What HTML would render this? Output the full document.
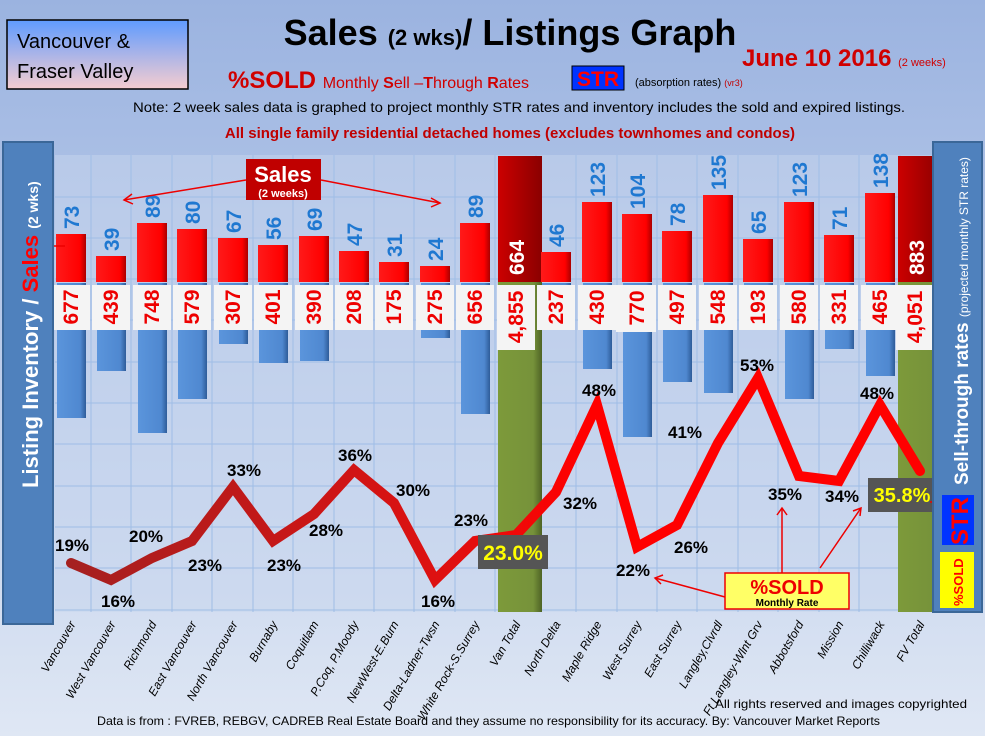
<!DOCTYPE html>
<html><head><meta charset="utf-8"><style>
html,body{margin:0;padding:0}
body{width:985px;height:736px;overflow:hidden;font-family:"Liberation Sans",sans-serif}
</style></head><body>
<svg width="985" height="736" viewBox="0 0 985 736" xmlns="http://www.w3.org/2000/svg" font-family="Liberation Sans, sans-serif">
<defs>
<linearGradient id="bg" x1="0" y1="0" x2="0" y2="1"><stop offset="0" stop-color="#9bb3e0"/><stop offset="0.5" stop-color="#bccdeb"/><stop offset="1" stop-color="#dfe7f4"/></linearGradient>
<linearGradient id="tb" x1="0" y1="0" x2="0" y2="1"><stop offset="0" stop-color="#5f9bff"/><stop offset="1" stop-color="#f6cdd0"/></linearGradient>
<linearGradient id="rb" x1="0" y1="0" x2="1" y2="0"><stop offset="0" stop-color="#ff1a1a"/><stop offset="0.8" stop-color="#f00"/><stop offset="1" stop-color="#a00"/></linearGradient>
<linearGradient id="bb" x1="0" y1="0" x2="1" y2="0"><stop offset="0" stop-color="#5b95dc"/><stop offset="0.8" stop-color="#4f88d0"/><stop offset="1" stop-color="#2e5c99"/></linearGradient>
<linearGradient id="gb" x1="0" y1="0" x2="1" y2="0"><stop offset="0" stop-color="#7d9a3a"/><stop offset="0.8" stop-color="#76923a"/><stop offset="1" stop-color="#4e6325"/></linearGradient>
<linearGradient id="db" x1="0" y1="0" x2="1" y2="0"><stop offset="0" stop-color="#cc0000"/><stop offset="1" stop-color="#8a0000"/></linearGradient>
<linearGradient id="ln" x1="0" y1="0" x2="1" y2="0"><stop offset="0" stop-color="#a52020"/><stop offset="0.45" stop-color="#e01010"/><stop offset="0.6" stop-color="#ff0000"/></linearGradient>
</defs>
<rect width="985" height="736" fill="url(#bg)"/>
<rect x="55" y="155" width="877" height="457" fill="#c7d5ee" opacity="0.5"/>
<g stroke="#9fbde6" stroke-width="1">
<line x1="55" y1="197" x2="932" y2="197"/><line x1="55" y1="238" x2="932" y2="238"/><line x1="55" y1="279" x2="932" y2="279"/><line x1="55" y1="320" x2="932" y2="320"/><line x1="55" y1="362" x2="932" y2="362"/><line x1="55" y1="403" x2="932" y2="403"/><line x1="55" y1="444" x2="932" y2="444"/><line x1="55" y1="486" x2="932" y2="486"/><line x1="55" y1="527" x2="932" y2="527"/><line x1="55" y1="568" x2="932" y2="568"/><line x1="55" y1="610" x2="932" y2="610"/>
<line x1="91" y1="155" x2="91" y2="612"/><line x1="131" y1="155" x2="131" y2="612"/><line x1="172" y1="155" x2="172" y2="612"/><line x1="212" y1="155" x2="212" y2="612"/><line x1="253" y1="155" x2="253" y2="612"/><line x1="293" y1="155" x2="293" y2="612"/><line x1="334" y1="155" x2="334" y2="612"/><line x1="374" y1="155" x2="374" y2="612"/><line x1="414" y1="155" x2="414" y2="612"/><line x1="455" y1="155" x2="455" y2="612"/><line x1="495" y1="155" x2="495" y2="612"/><line x1="536" y1="155" x2="536" y2="612"/><line x1="576" y1="155" x2="576" y2="612"/><line x1="617" y1="155" x2="617" y2="612"/><line x1="657" y1="155" x2="657" y2="612"/><line x1="697" y1="155" x2="697" y2="612"/><line x1="738" y1="155" x2="738" y2="612"/><line x1="778" y1="155" x2="778" y2="612"/><line x1="819" y1="155" x2="819" y2="612"/><line x1="859" y1="155" x2="859" y2="612"/><line x1="900" y1="155" x2="900" y2="612"/>
</g>
<g fill="url(#bb)">
<rect x="57" y="283" width="29" height="135"/><rect x="97" y="283" width="29" height="88"/><rect x="138" y="283" width="29" height="150"/><rect x="178" y="283" width="29" height="116"/><rect x="219" y="283" width="29" height="61"/><rect x="259" y="283" width="29" height="80"/><rect x="300" y="283" width="29" height="78"/><rect x="340" y="283" width="29" height="42"/><rect x="380" y="283" width="29" height="35"/><rect x="421" y="283" width="29" height="55"/><rect x="461" y="283" width="29" height="131"/>
<rect x="542" y="283" width="29" height="47"/><rect x="583" y="283" width="29" height="86"/><rect x="623" y="283" width="29" height="154"/><rect x="663" y="283" width="29" height="99"/><rect x="704" y="283" width="29" height="110"/><rect x="744" y="283" width="29" height="39"/><rect x="785" y="283" width="29" height="116"/><rect x="825" y="283" width="29" height="66"/><rect x="866" y="283" width="29" height="93"/>
</g>
<rect x="498" y="282" width="44" height="330" fill="url(#gb)"/><rect x="898" y="282" width="44" height="330" fill="url(#gb)"/>
<rect x="498" y="156" width="44" height="126" fill="url(#db)"/><rect x="898" y="156" width="44" height="126" fill="url(#db)"/>
<g fill="url(#rb)">
<rect x="56" y="234" width="30" height="48"/><rect x="96" y="256" width="30" height="26"/><rect x="137" y="223" width="30" height="59"/><rect x="177" y="229" width="30" height="53"/><rect x="218" y="238" width="30" height="44"/><rect x="258" y="245" width="30" height="37"/><rect x="299" y="236" width="30" height="46"/><rect x="339" y="251" width="30" height="31"/><rect x="379" y="262" width="30" height="20"/><rect x="420" y="266" width="30" height="16"/><rect x="460" y="223" width="30" height="59"/>
<rect x="541" y="252" width="30" height="30"/><rect x="582" y="202" width="30" height="80"/><rect x="622" y="214" width="30" height="68"/><rect x="662" y="231" width="30" height="51"/><rect x="703" y="195" width="30" height="87"/><rect x="743" y="239" width="30" height="43"/><rect x="784" y="202" width="30" height="80"/><rect x="824" y="235" width="30" height="47"/><rect x="865" y="193" width="30" height="89"/>
</g>
<g fill="#f4f4f4">
<rect x="52" y="285" width="38" height="45"/><rect x="92" y="285" width="38" height="45"/><rect x="133" y="285" width="38" height="45"/><rect x="173" y="285" width="38" height="45"/><rect x="214" y="285" width="38" height="45"/><rect x="254" y="285" width="38" height="45"/><rect x="295" y="285" width="38" height="45"/><rect x="335" y="285" width="38" height="45"/><rect x="375" y="285" width="38" height="45"/><rect x="416" y="285" width="38" height="45"/><rect x="456" y="285" width="38" height="45"/><rect x="497" y="285" width="38" height="65"/>
<rect x="537" y="285" width="38" height="45"/><rect x="578" y="285" width="38" height="45"/><rect x="616" y="285" width="40" height="47"/><rect x="658" y="285" width="38" height="45"/><rect x="699" y="285" width="38" height="45"/><rect x="739" y="285" width="38" height="45"/><rect x="780" y="285" width="38" height="45"/><rect x="820" y="285" width="38" height="45"/><rect x="861" y="285" width="38" height="45"/><rect x="896" y="285" width="36" height="65"/>
</g>
<g fill="#ee0000" font-weight="bold" font-size="21" text-anchor="middle">
<text transform="translate(78,307) rotate(-90)">677</text><text transform="translate(118,307) rotate(-90)">439</text><text transform="translate(159,307) rotate(-90)">748</text><text transform="translate(199,307) rotate(-90)">579</text><text transform="translate(240,307) rotate(-90)">307</text><text transform="translate(280,307) rotate(-90)">401</text><text transform="translate(321,307) rotate(-90)">390</text><text transform="translate(361,307) rotate(-90)">208</text><text transform="translate(401,307) rotate(-90)">175</text><text transform="translate(442,307) rotate(-90)">275</text><text transform="translate(482,307) rotate(-90)">656</text><text transform="translate(523,317) rotate(-90)">4,855</text>
<text transform="translate(563,307) rotate(-90)">237</text><text transform="translate(604,307) rotate(-90)">430</text><text transform="translate(644,308) rotate(-90)">770</text><text transform="translate(684,307) rotate(-90)">497</text><text transform="translate(725,307) rotate(-90)">548</text><text transform="translate(765,307) rotate(-90)">193</text><text transform="translate(806,307) rotate(-90)">580</text><text transform="translate(846,307) rotate(-90)">331</text><text transform="translate(887,307) rotate(-90)">465</text><text transform="translate(922,317) rotate(-90)">4,051</text>
</g>
<g fill="#1f78d1" font-weight="bold" font-size="21">
<text transform="translate(79,229) rotate(-90)">73</text><text transform="translate(119,251) rotate(-90)">39</text><text transform="translate(160,218) rotate(-90)">89</text><text transform="translate(200,224) rotate(-90)">80</text><text transform="translate(241,233) rotate(-90)">67</text><text transform="translate(281,240) rotate(-90)">56</text><text transform="translate(322,231) rotate(-90)">69</text><text transform="translate(362,246) rotate(-90)">47</text><text transform="translate(402,257) rotate(-90)">31</text><text transform="translate(443,261) rotate(-90)">24</text><text transform="translate(483,218) rotate(-90)">89</text>
<text transform="translate(564,247) rotate(-90)">46</text><text transform="translate(605,197) rotate(-90)">123</text><text transform="translate(645,209) rotate(-90)">104</text><text transform="translate(685,226) rotate(-90)">78</text><text transform="translate(726,190) rotate(-90)">135</text><text transform="translate(766,234) rotate(-90)">65</text><text transform="translate(807,197) rotate(-90)">123</text><text transform="translate(847,230) rotate(-90)">71</text><text transform="translate(888,188) rotate(-90)">138</text>
</g>
<g fill="#fff" font-weight="bold" font-size="21">
<text transform="translate(524,275) rotate(-90)">664</text><text transform="translate(924,275) rotate(-90)">883</text>
</g>
<polyline points="71,563 111,580 152,558 192,541 233,487 273,541 314,514 354,470 394,503 435,580 475,541 516,535 556,492 597,405 637,547 677,525 718,443 758,378 799,476 839,481 880,405 920,471" fill="none" stroke="url(#ln)" stroke-width="10" stroke-linejoin="miter" stroke-linecap="round"/>
<g font-weight="bold" font-size="17" fill="#000" text-anchor="middle">
<text x="72" y="551">19%</text><text x="118" y="607">16%</text><text x="146" y="542">20%</text><text x="205" y="571">23%</text><text x="244" y="476">33%</text><text x="284" y="571">23%</text><text x="326" y="536">28%</text><text x="355" y="461">36%</text><text x="413" y="496">30%</text><text x="438" y="607">16%</text><text x="471" y="526">23%</text>
<text x="580" y="509">32%</text><text x="599" y="396">48%</text><text x="633" y="576">22%</text><text x="685" y="438">41%</text><text x="691" y="553">26%</text><text x="757" y="371">53%</text><text x="785" y="500">35%</text><text x="842" y="502">34%</text><text x="877" y="399">48%</text>
</g>
<rect x="478" y="535" width="70" height="34" fill="#555"/>
<text x="513" y="560" font-weight="bold" font-size="21" fill="#ffff00" text-anchor="middle">23.0%</text>
<rect x="868" y="478" width="64" height="34" fill="#555"/>
<text x="902" y="502" font-weight="bold" font-size="20" fill="#ffff00" text-anchor="middle">35.8%</text>
<rect x="246" y="159" width="75" height="41" fill="#c00000"/>
<text x="283" y="182" font-weight="bold" font-size="22" fill="#fff" text-anchor="middle">Sales</text>
<text x="283" y="197" font-weight="bold" font-size="11" fill="#fff" text-anchor="middle">(2 weeks)</text>
<g stroke="#ee0000" stroke-width="1.5" fill="none">
<line x1="246" y1="180" x2="124" y2="200"/><polyline points="132,194 124,200 133,204"/>
<line x1="321" y1="180" x2="440" y2="203"/><polyline points="431,198 440,203 431,207"/>
<line x1="40" y1="246" x2="65" y2="246"/>
<line x1="725" y1="597" x2="655" y2="578"/><polyline points="663,575 655,578 661,584"/>
<line x1="782" y1="573" x2="782" y2="508"/><polyline points="777,515 782,508 787,515"/>
<line x1="820" y1="568" x2="861" y2="508"/><polyline points="853,511 861,508 860,516"/>
<line x1="940" y1="502" x2="930" y2="502"/>
</g>
<rect x="725" y="573" width="124" height="36" fill="#ffff66" stroke="#e00" stroke-width="1.5"/>
<text x="787" y="594" font-weight="bold" font-size="20" fill="#ee0000" text-anchor="middle">%SOLD</text>
<text x="787" y="606" font-weight="bold" font-size="10" fill="#000" text-anchor="middle">Monthly Rate</text>
<rect x="3" y="142" width="50" height="482" fill="#4f81bd" stroke="#3b6798" stroke-width="2"/>
<text transform="translate(38,488) rotate(-90)" font-weight="bold" font-size="22" fill="#fff">Listing Inventory / <tspan fill="#ff0000">Sales</tspan> <tspan font-size="14">(2  wks)</tspan></text>
<rect x="933" y="142" width="49" height="470" fill="#4f81bd" stroke="#3b6798" stroke-width="2"/>
<text transform="translate(968,485) rotate(-90)" font-weight="bold" font-size="19" fill="#fff">Sell-through rates <tspan font-size="12" font-weight="normal">  (projected monthly STR rates)</tspan></text>
<rect x="942" y="495" width="32" height="50" fill="#0033ff"/>
<text transform="translate(968,545) rotate(-90)" font-weight="bold" font-size="24" fill="#ff0000">STR</text>
<rect x="940" y="552" width="34" height="56" fill="#ffff00"/>
<text transform="translate(963,606) rotate(-90)" font-weight="bold" font-size="13" fill="#ff0000">%SOLD</text>
<rect x="7" y="20" width="181" height="69" fill="url(#tb)" stroke="#000" stroke-width="1.5"/>
<text x="17" y="48" font-size="20" fill="#000">Vancouver &amp;</text>
<text x="17" y="78" font-size="20" fill="#000">Fraser Valley</text>
<text x="510" y="45" font-weight="bold" font-size="36" fill="#000" text-anchor="middle">Sales <tspan font-size="22">(2 wks)</tspan>/ Listings Graph</text>
<text x="742" y="66" font-weight="bold" font-size="24" fill="#d00000">June 10 2016 <tspan font-size="11" font-weight="normal">(2 weeks)</tspan></text>
<text x="228" y="88" font-weight="bold" font-size="24" fill="#d00000">%SOLD <tspan font-size="16" font-weight="normal">Monthly <tspan font-weight="bold">S</tspan>ell –<tspan font-weight="bold">T</tspan>hrough <tspan font-weight="bold">R</tspan>ates</tspan></text>
<rect x="572" y="66" width="52" height="24" fill="#0033ff" stroke="#000" stroke-width="1"/>
<text x="598" y="86" font-weight="bold" font-size="21" fill="#ff0000" text-anchor="middle">STR</text>
<text x="635" y="86" font-size="11" fill="#000">(absorption rates) <tspan fill="#c00000" font-size="9">(vr3)</tspan></text>
<text x="133" y="112" font-size="14" fill="#000" textLength="772" lengthAdjust="spacingAndGlyphs">Note: 2 week sales data is graphed to project monthly STR rates and inventory includes the sold and expired listings.</text>
<text x="510" y="138" font-weight="bold" font-size="15" fill="#c00000" text-anchor="middle">All single family residential detached homes (excludes townhomes and condos)</text>
<g font-size="12" font-style="italic" fill="#000" text-anchor="end">
<text transform="translate(76,624) rotate(-60)">Vancouver</text><text transform="translate(116,624) rotate(-60)">West Vancouver</text><text transform="translate(157,624) rotate(-60)">Richmond</text><text transform="translate(197,624) rotate(-60)">East Vancouver</text><text transform="translate(238,624) rotate(-60)">North Vancouver</text><text transform="translate(278,624) rotate(-60)">Burnaby</text><text transform="translate(319,624) rotate(-60)">Coquitlam</text><text transform="translate(359,624) rotate(-60)">P.Coq, P.Moody</text><text transform="translate(399,624) rotate(-60)">NewWest-E.Burn</text><text transform="translate(440,624) rotate(-60)">Delta-Ladner-Twsn</text><text transform="translate(480,624) rotate(-60)">White Rock-S.Surrey</text><text transform="translate(521,624) rotate(-60)">Van Total</text>
<text transform="translate(561,624) rotate(-60)">North Delta</text><text transform="translate(602,624) rotate(-60)">Maple Ridge</text><text transform="translate(642,624) rotate(-60)">West Surrey</text><text transform="translate(682,624) rotate(-60)">East Surrey</text><text transform="translate(723,624) rotate(-60)">Langley,Clvrdl</text><text transform="translate(763,624) rotate(-60)">Ft Langley-Wlnt Grv</text><text transform="translate(804,624) rotate(-60)">Abbotsford</text><text transform="translate(844,624) rotate(-60)">Mission</text><text transform="translate(885,624) rotate(-60)">Chilliwack</text><text transform="translate(925,624) rotate(-60)">FV Total</text>
</g>
<text x="715" y="708" font-size="12" fill="#000" textLength="252" lengthAdjust="spacingAndGlyphs">All rights reserved and  images copyrighted</text>
<text x="97" y="725" font-size="12" fill="#000" textLength="783" lengthAdjust="spacingAndGlyphs">Data is from : FVREB, REBGV, CADREB Real Estate Board and they assume no responsibility for its accuracy. By: Vancouver Market Reports</text>
</svg>
</body></html>
